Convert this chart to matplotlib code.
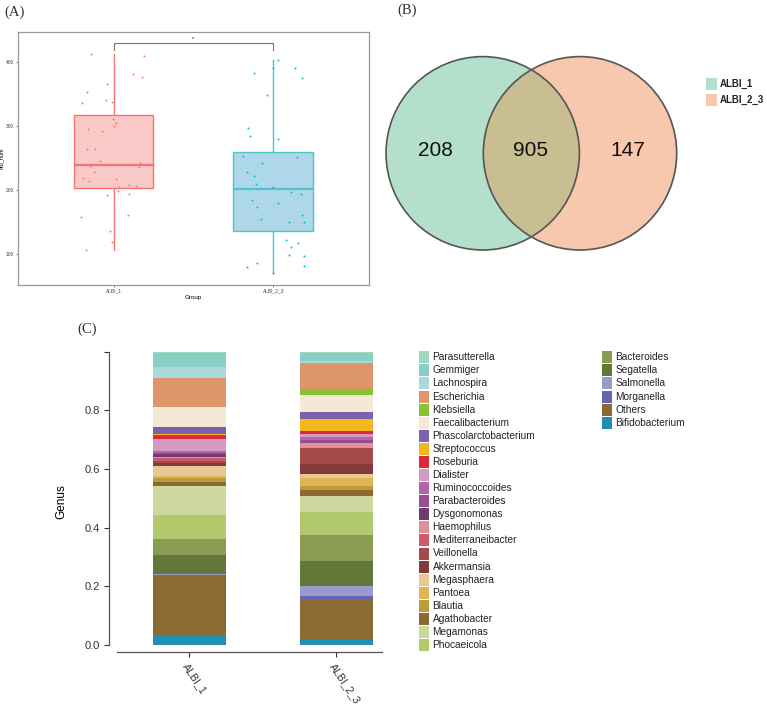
import matplotlib.pyplot as plt
import matplotlib.patches as mpatches
import numpy as np

plt.rcParams['font.family'] = ['Liberation Sans', 'DejaVu Sans']

# ---------------- (A) boxplot data ----------------
groups = ['ALBI_1', 'ALBI_2_3']
box_q1 = [204, 136]
box_med = [240, 202]
box_q3 = [317, 260]
box_lo = [106, 70]
box_hi = [413, 404]

# jittered points: offset from group centre, otu_num
g1_dx = [-0.138, 0.190, 0.123, 0.178, -0.042, -0.163, -0.044, -0.008, -0.199, -0.002,
         0.013, 0.006, -0.157, -0.071, -0.165, -0.117, -0.082, 0.165, -0.148, 0.161,
         -0.121, -0.190, 0.015, -0.155, 0.033, 0.031, 0.096, 0.140, 0.094, -0.038,
         -0.201, 0.090, -0.019, -0.008, -0.174]
g1_y = [413, 410, 382, 377, 366, 354, 342, 338, 336, 311,
        305, 300, 296, 292, 265, 265, 246, 242, 238, 236,
        228, 219, 218, 215, 205, 199, 209, 207, 194, 192,
        159, 161, 137, 119, 106]
g2_dx = [0.031, -0.002, 0.138, -0.123, 0.180, -0.040, -0.155, -0.144, 0.029, -0.188,
         0.146, -0.071, -0.167, -0.121, -0.107, 0.000, 0.109, 0.176, -0.130, 0.027,
         -0.102, 0.180, -0.075, 0.100, 0.190, 0.079, 0.153, 0.113, 0.096, 0.194,
         -0.104, -0.161, 0.192, 0.000]
g2_y = [403, 391, 391, 383, 375, 349, 297, 285, 280, 254,
        252, 242, 228, 223, 210, 205, 198, 195, 185, 180,
        174, 161, 155, 150, 151, 122, 117, 111, 99, 97,
        86, 80, 81, 70]

# ---------------- (B) venn data ----------------
venn_sets = ['ALBI_1', 'ALBI_2_3']
venn_counts = [208, 905, 147]   # only ALBI_1, shared, only ALBI_2_3

# ---------------- (C) genus composition ----------------
samples = ['ALBI_1', 'ALBI_2_3']
genera = ['Parasutterella', 'Gemmiger', 'Lachnospira', 'Escherichia', 'Klebsiella',
          'Faecalibacterium', 'Phascolarctobacterium', 'Streptococcus', 'Roseburia',
          'Dialister', 'Ruminococcoides', 'Parabacteroides', 'Dysgonomonas', 'Haemophilus',
          'Mediterraneibacter', 'Veillonella', 'Akkermansia', 'Megasphaera', 'Pantoea',
          'Blautia', 'Agathobacter', 'Megamonas', 'Phocaeicola', 'Bacteroides', 'Segatella',
          'Salmonella', 'Morganella', 'Others', 'Bifidobacterium']
albi_1 = [0.005, 0.048, 0.036, 0.098, 0.003, 0.068, 0.021, 0.004, 0.015, 0.039,
          0.008, 0.003, 0.012, 0.001, 0.010, 0.009, 0.008, 0.035, 0.006, 0.016,
          0.013, 0.099, 0.081, 0.056, 0.064, 0.004, 0.000, 0.207, 0.031]
albi_2_3 = [0.005, 0.026, 0.009, 0.087, 0.019, 0.059, 0.026, 0.038, 0.013, 0.010,
            0.008, 0.010, 0.002, 0.016, 0.002, 0.054, 0.034, 0.012, 0.029, 0.014,
            0.019, 0.055, 0.079, 0.087, 0.086, 0.034, 0.013, 0.135, 0.019]
genus_colors = ['#9ED9C0', '#88CFC5', '#A8DADC', '#DE9569', '#86C232',
                '#F6E8D6', '#7B62AC', '#F5B81C', '#DC2A3A', '#D49AC4',
                '#B862A8', '#9A4C91', '#733A6E', '#E0909A', '#D05A68',
                '#A44B4A', '#843A3A', '#E6C894', '#E2B553', '#BC9A3E',
                '#8A6A32', '#CCD89E', '#B1C96C', '#8A9C52', '#617837',
                '#9A9ACF', '#6666B0', '#8A6B33', '#1F8FB3']

W, H = 767, 704
fig = plt.figure(figsize=(W / 100, H / 100), dpi=100)

# ---------- panel A ----------
axA = fig.add_axes([17.7 / W, 1 - 285 / H, 351.3 / W, 253.3 / H])
stats = []
for i in range(len(groups)):
    stats.append({'q1': box_q1[i], 'med': box_med[i], 'q3': box_q3[i],
                  'whislo': box_lo[i], 'whishi': box_hi[i], 'fliers': []})
bp = axA.bxp(stats, positions=[1, 2], widths=0.5, patch_artist=True,
             showcaps=False, showfliers=False)
edge_cols = ['#F2766E', '#4FC4CC']
fill_cols = ['#F8C9C7', '#AFD7EA']
for i in range(2):
    bp['boxes'][i].set_facecolor(fill_cols[i])
    bp['boxes'][i].set_edgecolor(edge_cols[i])
    bp['boxes'][i].set_linewidth(1.0)
    bp['medians'][i].set_color(edge_cols[i])
    bp['medians'][i].set_linewidth(1.6)
    for w in bp['whiskers'][2 * i:2 * i + 2]:
        w.set_color(edge_cols[i])
        w.set_linewidth(1.0)
axA.scatter(1 + np.array(g1_dx), g1_y, s=2, color='#F8766D', zorder=3, linewidths=0)
axA.scatter(2 + np.array(g2_dx), g2_y, s=2, color='#00BFC4', zorder=3, linewidths=0)

# significance bracket
axA.plot([1, 1, 2, 2], [420, 431, 431, 420], color='#777777', lw=0.8)
axA.text(1.5, 433, '*', ha='center', va='bottom', fontsize=4)

axA.set_xlim(0.4, 2.6)
axA.set_ylim(52, 448)
axA.set_xticks([1, 2])
axA.set_xticklabels(groups)
axA.set_yticks([100, 200, 300, 400])
axA.tick_params(labelsize=3.5, length=1.5, width=0.5, pad=1, colors='#444444')
axA.set_xlabel('Group', fontsize=4.5, labelpad=1)
axA.set_ylabel('otu_num', fontsize=4)
axA.yaxis.set_label_coords(-0.036, 0.5)
for s in axA.spines.values():
    s.set_color('#999999')
    s.set_linewidth(0.9)

# ---------- overlay canvas (pixel coords) for venn, legend and panel tags ----------
cv = fig.add_axes([0, 0, 1, 1], zorder=-1)
cv.set_xlim(0, W)
cv.set_ylim(H, 0)
cv.axis('off')

r = 96.7
c_left = (482.7, 153.3)
c_right = (580.0, 153.3)
left = mpatches.Circle(c_left, r, fc='#B3DFCB', ec='none')
right = mpatches.Circle(c_right, r, fc='#F7C8AD', ec='none')
cv.add_patch(left)
cv.add_patch(right)
lens = mpatches.Circle(c_right, r, fc='#C9BE91', ec='none')
cv.add_patch(lens)
lens.set_clip_path(left)
for c in (c_left, c_right):
    cv.add_patch(mpatches.Circle(c, r, fill=False, ec='#555555', lw=1.2))
for x, n in zip([435, 531, 628], venn_counts):
    cv.text(x, 151, str(n), ha='center', va='center', fontsize=15, color='#111111')

venn_cols = ['#B3DFCB', '#F7C8AD']
for i, name in enumerate(venn_sets):
    yc = 83.5 + 16.7 * i
    cv.add_patch(mpatches.Rectangle((705.7, yc - 6), 11.6, 12, fc=venn_cols[i], ec='none'))
    cv.text(720, yc, name, ha='left', va='center', fontsize=7, fontweight='bold', color='#222222')

# legend for panel C
for i, (g, col) in enumerate(zip(genera, genus_colors)):
    if i < 23:
        x0, yc = 419, 357.3 + 13.08 * i
    else:
        x0, yc = 601.7, 357.3 + 13.08 * (i - 23)
    cv.add_patch(mpatches.Rectangle((x0, yc - 6), 10, 12, fc=col, ec='none'))
    cv.text(x0 + 13.5, yc, g, ha='left', va='center', fontsize=7.3, color='#222222')

# panel tags
for tag, x, y in [('(A)', 4, 12), ('(B)', 397, 10), ('(C)', 77, 329)]:
    cv.text(x, y, tag, ha='left', va='center', fontsize=10.5,
            family=['Liberation Serif', 'DejaVu Serif'], color='#333333')

# ---------- panel C ----------
axC = fig.add_axes([109.3 / W, 1 - 651.7 / H, 278.4 / W, 300 / H])
xpos = np.arange(len(samples))
bottom = np.zeros(len(samples))
for g, col, v1, v2 in reversed(list(zip(genera, genus_colors, albi_1, albi_2_3))):
    vals = np.array([v1, v2])
    axC.bar(xpos, vals, width=0.5, bottom=bottom, color=col, linewidth=0)
    bottom += vals
axC.set_xlim(-0.544, 1.35)
axC.set_ylim(-0.0228, 1.0)
axC.spines['top'].set_visible(False)
axC.spines['right'].set_visible(False)
axC.spines['left'].set_bounds(0, 1.0)
axC.spines['bottom'].set_bounds(-0.49, 1.31)
for s in ('left', 'bottom'):
    axC.spines[s].set_color('#555555')
    axC.spines[s].set_linewidth(0.9)
axC.set_yticks([0, 0.2, 0.4, 0.6, 0.8, 1.0])
axC.set_yticklabels(['0.0', '0.2', '0.4', '0.6', '0.8', ''])
axC.set_xticks(xpos)
axC.set_xticklabels(samples, rotation=-56, ha='left', va='top', rotation_mode='anchor')
axC.tick_params(axis='both', labelsize=8, length=3.5, width=0.8, colors='#333333')
axC.tick_params(axis='x', labelsize=7.6, pad=3.5)
axC.set_ylabel('Genus', fontsize=8.5, labelpad=12)

fig.savefig('out.png', dpi=100)
